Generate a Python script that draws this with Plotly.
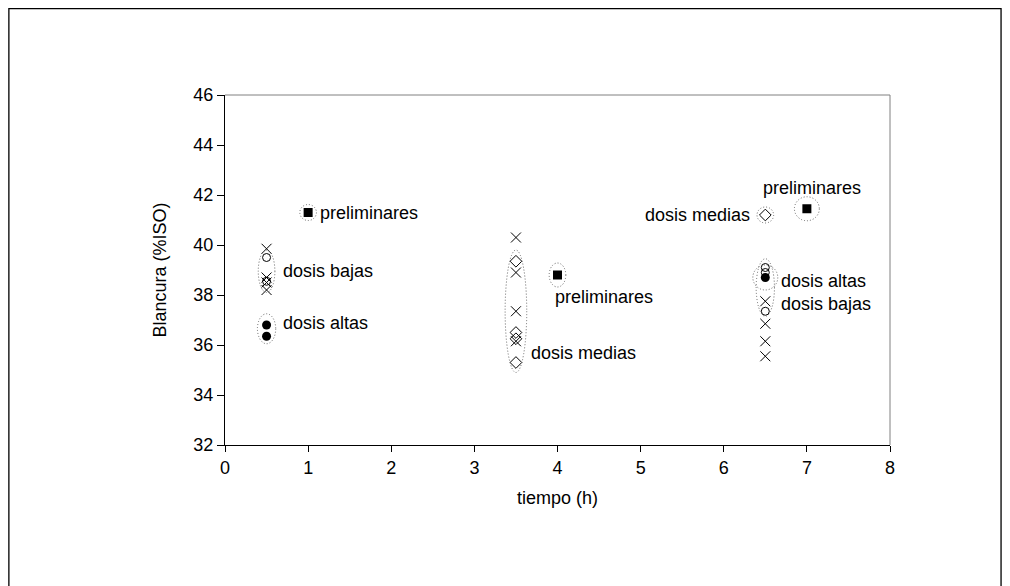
import plotly.graph_objects as go

# Blancura (%ISO) measured at each bleaching time (h)
cross_t = [0.5, 0.5, 0.5, 0.5, 3.5, 3.5, 3.5, 3.5, 6.5, 6.5, 6.5, 6.5]
cross_b = [39.85, 38.7, 38.5, 38.2, 40.3, 38.9, 37.35, 36.15, 37.75, 36.85, 36.15, 35.55]

bajas_t = [0.5, 0.5, 6.5, 6.5, 6.5]
bajas_b = [39.5, 38.55, 39.1, 38.9, 37.35]

altas_t = [0.5, 0.5, 6.5]
altas_b = [36.8, 36.35, 38.7]

medias_t = [3.5, 3.5, 3.5, 3.5, 6.5]
medias_b = [39.35, 36.5, 36.25, 35.3, 41.2]

prelim_t = [1.0, 4.0, 7.0]
prelim_b = [41.3, 38.8, 41.45]

x_ticks = [0, 1, 2, 3, 4, 5, 6, 7, 8]
y_ticks = [32, 34, 36, 38, 40, 42, 44, 46]

FONT = "Liberation Sans, Arial, sans-serif"

fig = go.Figure()

fig.add_trace(go.Scatter(x=cross_t, y=cross_b, mode="markers", name="réplicas",
                         marker=dict(symbol="x-thin-open", size=10, color="black",
                                     line=dict(color="black", width=1))))
fig.add_trace(go.Scatter(x=bajas_t, y=bajas_b, mode="markers", name="dosis bajas",
                         marker=dict(symbol="circle-open", size=8, color="black",
                                     line=dict(color="black", width=1))))
fig.add_trace(go.Scatter(x=medias_t, y=medias_b, mode="markers", name="dosis medias",
                         marker=dict(symbol="diamond-open", size=9, color="black",
                                     line=dict(color="black", width=1))))
fig.add_trace(go.Scatter(x=altas_t, y=altas_b, mode="markers", name="dosis altas",
                         marker=dict(symbol="circle", size=9, color="black",
                                     line=dict(width=0))))
fig.add_trace(go.Scatter(x=prelim_t, y=prelim_b, mode="markers", name="preliminares",
                         marker=dict(symbol="square", size=9, color="black",
                                     line=dict(width=0))))


def ring(ts, bs, dx, pad_lo, pad_hi):
    """Dotted ellipse enclosing a group of points."""
    xc = sum(ts) / len(ts)
    return dict(type="circle", xref="x", yref="y",
                x0=xc - dx, x1=xc + dx,
                y0=min(bs) - pad_lo, y1=max(bs) + pad_hi,
                line=dict(color="#666666", width=1, dash="1px,2px"),
                fillcolor="rgba(0,0,0,0)", layer="above")


shapes = [
    # groups at 0.5 h
    ring([0.5], [bajas_b[1], cross_b[3], bajas_b[0]], 0.1, 0.1, 0.3),
    ring(altas_t[:2], altas_b[:2], 0.11, 0.3, 0.45),
    # group at 3.5 h
    ring(medias_t[:4], medias_b[:4], 0.13, 0.4, 0.45),
    # group at 6.5 h
    ring(bajas_t[2:], bajas_b[2:], 0.11, 0.2, 0.35),
    ring(altas_t[2:], altas_b[2:], 0.15, 0.5, 0.5),
    ring(medias_t[4:], medias_b[4:], 0.1, 0.32, 0.32),
    # preliminares
    ring(prelim_t[:1], prelim_b[:1], 0.1, 0.32, 0.32),
    ring(prelim_t[1:2], prelim_b[1:2], 0.1, 0.48, 0.48),
    ring(prelim_t[2:], prelim_b[2:], 0.15, 0.48, 0.48),
    # grey top and right edges of the plotting area
    dict(type="line", xref="paper", yref="paper", x0=0, x1=1, y0=1, y1=1,
         line=dict(color="#808080", width=1)),
    dict(type="line", xref="paper", yref="paper", x0=1, x1=1, y0=0, y1=1,
         line=dict(color="#808080", width=1)),
    # outer chart frame
    dict(type="rect", xref="paper", yref="paper",
         x0=-0.325, x1=1.167, y0=-0.5, y1=1.247,
         line=dict(color="black", width=1.3), fillcolor="rgba(0,0,0,0)"),
]

labels = [
    (1.12, 41.3, "preliminares", "left"),
    (0.67, 38.95, "dosis bajas", "left"),
    (0.67, 36.88, "dosis altas", "left"),
    (3.66, 35.68, "dosis medias", "left"),
    (3.94, 37.92, "preliminares", "left"),
    (6.45, 42.3, "preliminares", "left"),
    (6.34, 41.2, "dosis medias", "right"),
    (6.67, 38.58, "dosis altas", "left"),
    (6.67, 37.64, "dosis bajas", "left"),
]
annotations = [
    dict(x=x, y=y, text=t, xref="x", yref="y", showarrow=False,
         xanchor=a, yanchor="middle", font=dict(family=FONT, size=18, color="black"))
    for x, y, t, a in labels
]

fig.update_layout(
    width=1010, height=586,
    margin=dict(l=225, r=120, t=95, b=141),
    paper_bgcolor="white", plot_bgcolor="white",
    showlegend=False,
    font=dict(family=FONT, size=18, color="black"),
    shapes=shapes,
    annotations=annotations,
)
fig.update_xaxes(range=[0, 8], tickvals=x_ticks, ticktext=[str(v) for v in x_ticks],
                 showgrid=False, zeroline=False, showline=True, linecolor="black",
                 linewidth=1, ticks="outside", ticklen=6, tickcolor="black",
                 title=dict(text="tiempo (h)", font=dict(size=18), standoff=14),
                 tickfont=dict(size=18))
fig.update_yaxes(range=[32, 46], tickvals=y_ticks, ticktext=[str(v) for v in y_ticks],
                 showgrid=False, zeroline=False, showline=True, linecolor="black",
                 linewidth=1, ticks="outside", ticklen=7, tickcolor="black",
                 title=dict(text="Blancura (%ISO)", font=dict(size=18), standoff=22),
                 tickfont=dict(size=18))

fig.write_html("out.html")
